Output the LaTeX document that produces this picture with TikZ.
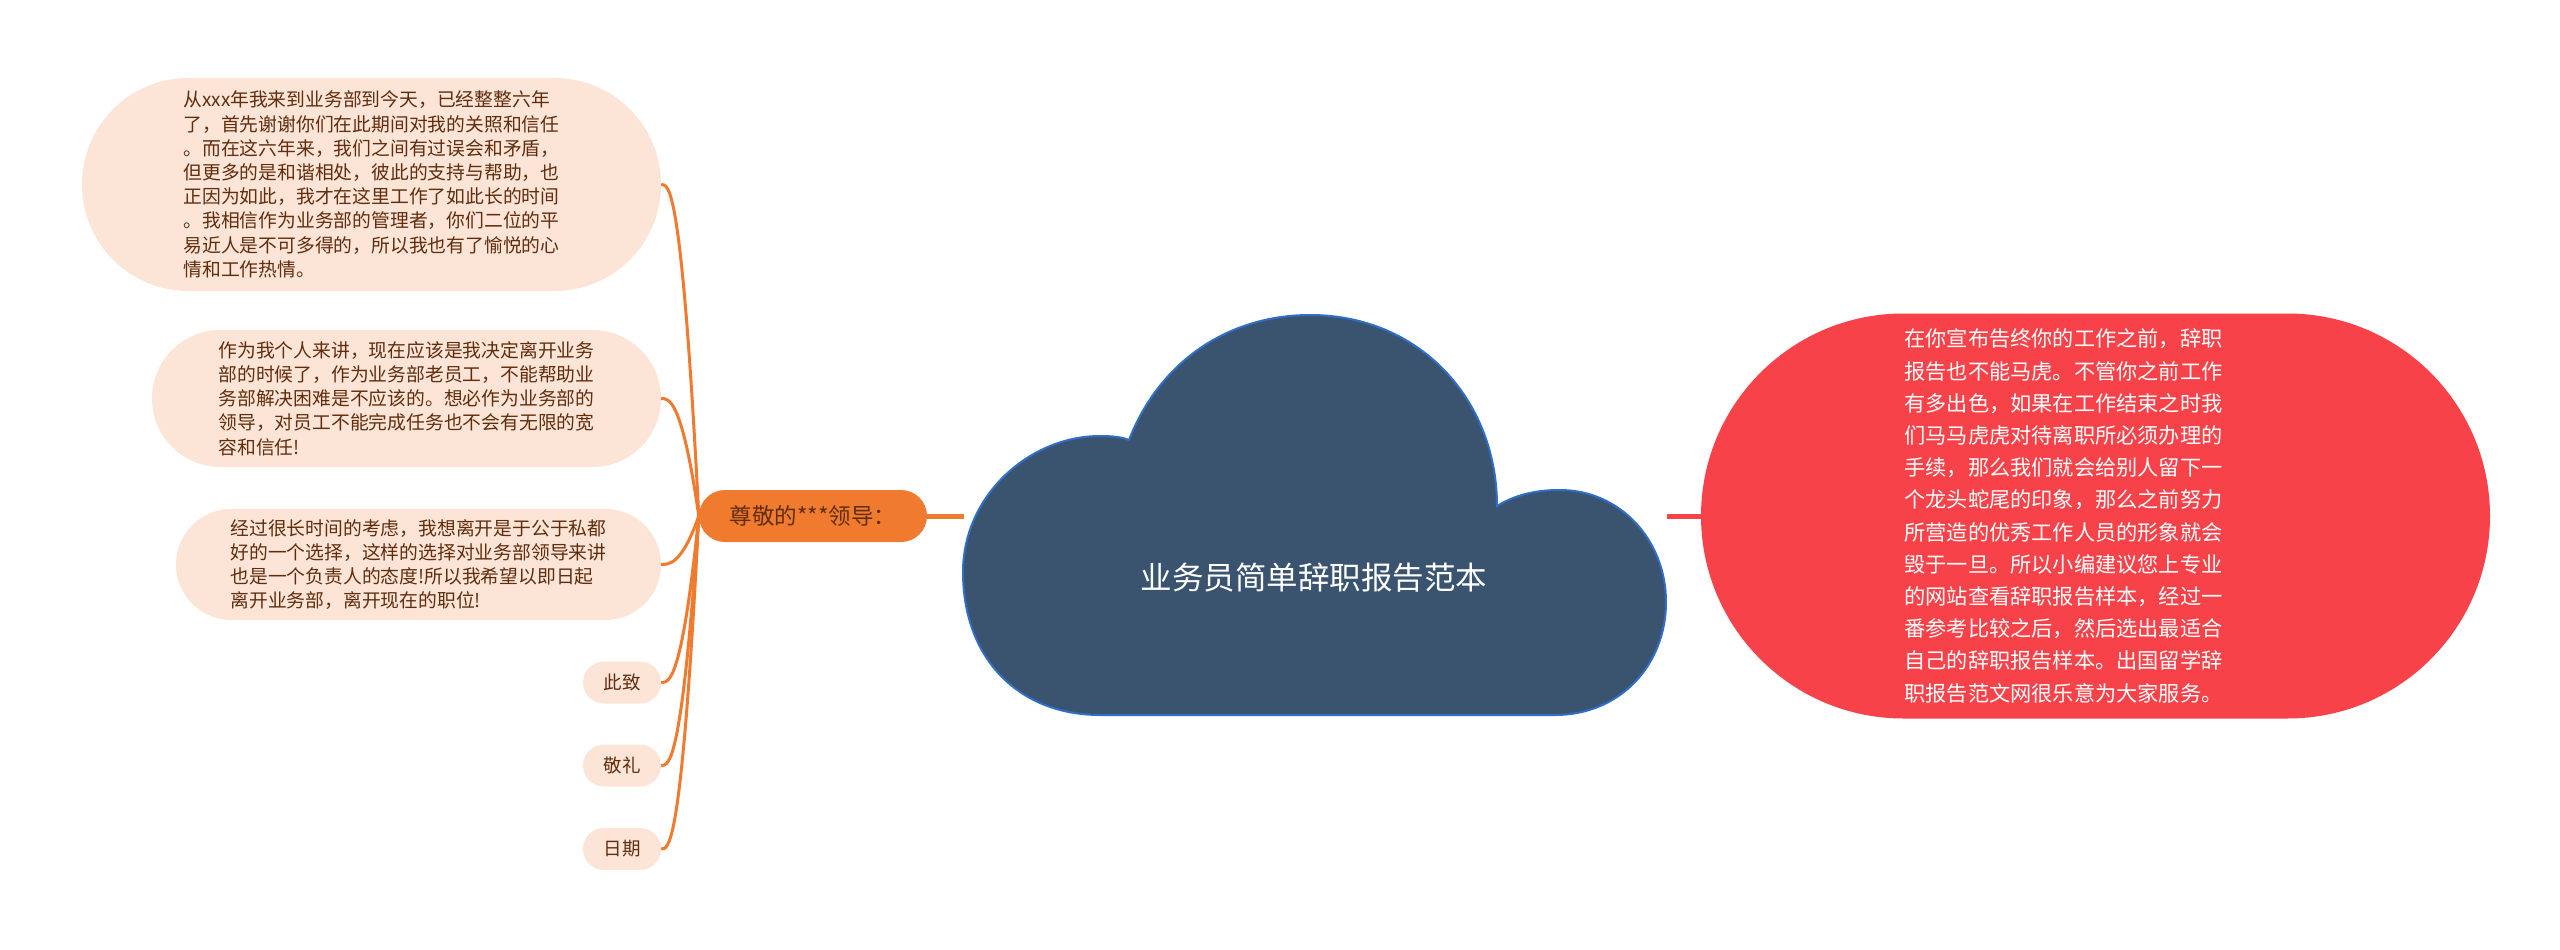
\documentclass[tikz,border=0pt]{standalone}
\usepackage{fontspec}
\usepackage{xcolor}
\newfontfamily\cjk{Noto Sans CJK SC}
\usetikzlibrary{shapes.misc,calc}
\definecolor{peach}{RGB}{252,228,214}
\definecolor{brownText}{RGB}{96,46,14}
\definecolor{leadOrange}{RGB}{240,122,46}
\definecolor{cloudBlue}{RGB}{58,84,112}
\definecolor{cloudEdge}{RGB}{48,110,200}
\definecolor{infoRed}{RGB}{246,66,72}
\tikzset{
  bubble/.style={rounded rectangle, fill=peach, text=brownText, align=left, inner sep=0pt,
    font=\cjk\fontsize{18.8}{24.2}\selectfont},
  branch/.style={draw=leadOrange, line width=3pt,
    to path={.. controls ($(\tikztostart |- \tikztotarget)+(-17,0)$) and ($(\tikztotarget)+(8,0)$) .. (\tikztotarget)}},
}

\begin{document}
\begin{tikzpicture}[x=1pt,y=-1pt]
\fill[white] (0,0) rectangle (2560,950);
\draw[fill=cloudBlue, draw=cloudEdge, line width=2pt]
  (1100,715) .. controls (1020,715) and (963,660) .. (963,572)
  .. controls (963,495) and (1030,436) .. (1100,436)
  .. controls (1112,436) and (1122,437) .. (1129,440)
  .. controls (1160,360) and (1230,315) .. (1310,315)
  .. controls (1420,315) and (1497,400) .. (1497,506)
  .. controls (1515,495) and (1535,490) .. (1560,490)
  .. controls (1620,490) and (1666,540) .. (1666,602)
  .. controls (1666,665) and (1620,715) .. (1555,715) -- cycle;
\node[text=white, font=\cjk\fontsize{31.5}{36}\selectfont] (title) at (1314,578) {业务员简单辞职报告范本};
\coordinate (cloudL) at (964,516);
\coordinate (cloudR) at (1667,516);

\node[rounded rectangle, fill=leadOrange, text=brownText, minimum width=228pt, minimum height=52pt,
  inner sep=0pt, font=\cjk\fontsize{22.5}{27}\selectfont] (lead) at (813,516) {尊敬的***领导：};

\node[bubble, minimum width=579pt, minimum height=213pt] (thanks) at (371.5,184.5)
  {从xxx年我来到业务部到今天，已经整整六年\\
   了，首先谢谢你们在此期间对我的关照和信任\\
   。而在这六年来，我们之间有过误会和矛盾，\\
   但更多的是和谐相处，彼此的支持与帮助，也\\
   正因为如此，我才在这里工作了如此长的时间\\
   。我相信作为业务部的管理者，你们二位的平\\
   易近人是不可多得的，所以我也有了愉悦的心\\
   情和工作热情。};
\node[bubble, minimum width=509pt, minimum height=137pt] (reason) at (406.5,398.5)
  {作为我个人来讲，现在应该是我决定离开业务\\
   部的时候了，作为业务部老员工，不能帮助业\\
   务部解决困难是不应该的。想必作为业务部的\\
   领导，对员工不能完成任务也不会有无限的宽\\
   容和信任!};
\node[bubble, minimum width=485pt, minimum height=111pt] (leave) at (418.5,564.5)
  {经过很长时间的考虑，我想离开是于公于私都\\
   好的一个选择，这样的选择对业务部领导来讲\\
   也是一个负责人的态度!所以我希望以即日起\\
   离开业务部，离开现在的职位!};
\node[bubble, minimum width=78pt, minimum height=42pt, font=\cjk\fontsize{18.5}{22}\selectfont] (cizhi) at (622,682.5) {此致};
\node[bubble, minimum width=78pt, minimum height=42pt, font=\cjk\fontsize{18.5}{22}\selectfont] (jingli) at (622,765.5) {敬礼};
\node[bubble, minimum width=78pt, minimum height=42pt, font=\cjk\fontsize{18.5}{22}\selectfont] (riqi) at (622,849) {日期};

\node[rounded rectangle, fill=infoRed, text=white, minimum width=789pt, minimum height=405pt,
  inner sep=0pt, text width=382pt, align=left, font=\cjk\fontsize{21.2}{32.2}\selectfont] (info) at (2095.5,516)
  {在你宣布告终你的工作之前，辞职\\
   报告也不能马虎。不管你之前工作\\
   有多出色，如果在工作结束之时我\\
   们马马虎虎对待离职所必须办理的\\
   手续，那么我们就会给别人留下一\\
   个龙头蛇尾的印象，那么之前努力\\
   所营造的优秀工作人员的形象就会\\
   毁于一旦。所以小编建议您上专业\\
   的网站查看辞职报告样本，经过一\\
   番参考比较之后，然后选出最适合\\
   自己的辞职报告样本。出国留学辞\\
   职报告范文网很乐意为大家服务。};

\draw[leadOrange, line width=5pt] (lead.east) -- (cloudL);
\draw[infoRed, line width=5pt] (cloudR) -- (info.west);
\foreach \kid in {thanks,reason,leave,cizhi,jingli,riqi}
  \draw[branch] (lead.west) to (\kid.east);
\end{tikzpicture}
\end{document}
